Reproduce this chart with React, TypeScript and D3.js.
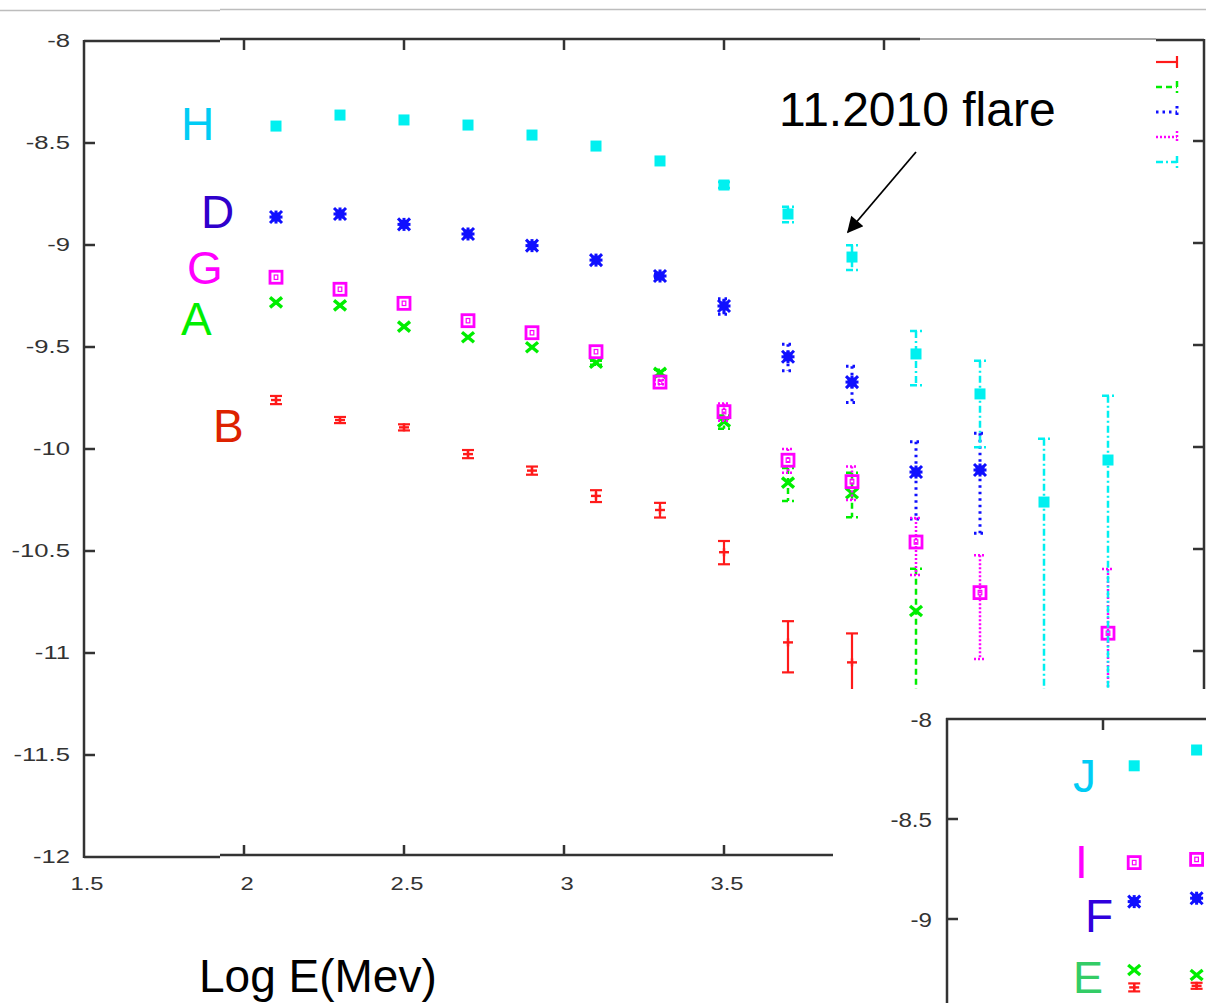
import React from "react";
import * as d3 from "d3";

// ---------- DATA ----------
const energies = [2.1, 2.3, 2.5, 2.7, 2.9, 3.1, 3.3, 3.5, 3.7, 3.9, 4.1, 4.3, 4.5, 4.7];

// H (cyan squares)
const valuesH = [-8.417, -8.363, -8.387, -8.412, -8.461, -8.515, -8.588, -8.706, -8.848, -9.059, -9.534, -9.73, -10.26, -10.054];
const errUpH = [0, 0, 0, 0, 0, 0, 0, 0.015, 0.035, 0.058, 0.113, 0.162, 0.31, 0.315];
const errDnH = [0, 0, 0, 0, 0, 0, 0, 0.015, 0.04, 0.064, 0.153, 0.261, 3, 3];

// D (blue stars)
const valuesD = [-8.863, -8.848, -8.899, -8.946, -9.003, -9.074, -9.152, -9.299, -9.548, -9.672, -10.113, -10.103, null, null];
const errUpD = [0, 0, 0, 0, 0, 0, 0.01, 0.035, 0.062, 0.078, 0.148, 0.18, null, null];
const errDnD = [0, 0, 0, 0, 0, 0, 0.01, 0.04, 0.069, 0.1, 0.23, 0.31, null, null];

// G (magenta boxes)
const valuesG = [-9.158, -9.217, -9.286, -9.371, -9.43, -9.523, -9.672, -9.817, -10.055, -10.16, -10.456, -10.704, null, -10.903];
const errUpG = [0, 0, 0, 0, 0, 0, 0.01, 0.04, 0.055, 0.074, 0.118, 0.183, null, 0.315];
const errDnG = [0, 0, 0, 0, 0, 0, 0.01, 0.045, 0.061, 0.09, 0.162, 0.325, null, 3];

// A (green crosses)
const valuesA = [-9.281, -9.296, -9.4, -9.452, -9.501, -9.577, -9.627, -9.866, -10.165, -10.217, -10.794, null, null, null];
const errUpA = [0, 0, 0, 0, 0, 0.01, 0.015, 0.03, 0.072, 0.1, 0.207, null, null, null];
const errDnA = [0, 0, 0, 0, 0, 0.01, 0.015, 0.035, 0.09, 0.118, 0.41, null, null, null];

// B (red)
const valuesB = [-9.76, -9.858, -9.894, -10.025, -10.106, -10.23, -10.299, -10.506, -10.948, -11.046, null, null, null, null];
const errUpB = [0.02, 0.015, 0.015, 0.02, 0.02, 0.028, 0.035, 0.055, 0.104, 0.142, null, null, null, null];
const errDnB = [0.02, 0.015, 0.015, 0.02, 0.02, 0.03, 0.037, 0.059, 0.147, 0.213, null, null, null, null];

// Inset
const insetEnergies = [2.1, 2.3];
const insetJ = [-8.234, -8.155];
const insetI = [-8.718, -8.702];
const insetF = [-8.913, -8.896];
const insetE = [-9.255, -9.28];
const insetRed = [-9.342, -9.334];
const insetRedErr = [0.02, 0.015];

const mainXTicks = [1.5, 2, 2.5, 3, 3.5, 4, 4.5];
const mainYTicks = [-8, -8.5, -9, -9.5, -10, -10.5, -11, -11.5, -12];
const insetYTicks = [-8, -8.5, -9];
const insetXTicks = [2];

// ---------- STYLE ----------
const C = {
  red: "#ff1a1a",
  green: "#00ee00",
  blue: "#1010ff",
  magenta: "#ff00ff",
  cyan: "#00f0f0",
  axis: "#333333",
};
const FONT = "'Liberation Sans', Arial, sans-serif";

type Series = {
  name: string;
  values: (number | null)[];
  up: (number | null)[];
  dn: (number | null)[];
  color: string;
  marker: string;
  dash: string;
  width: number;
};

const series: Series[] = [
  { name: "B", values: valuesB, up: errUpB, dn: errDnB, color: C.red, marker: "plus", dash: "", width: 2.2 },
  { name: "A", values: valuesA, up: errUpA, dn: errDnA, color: C.green, marker: "cross", dash: "6,4", width: 2.5 },
  { name: "D", values: valuesD, up: errUpD, dn: errDnD, color: C.blue, marker: "star", dash: "2.5,4", width: 3 },
  { name: "G", values: valuesG, up: errUpG, dn: errDnG, color: C.magenta, marker: "box", dash: "2,2", width: 2.5 },
  { name: "H", values: valuesH, up: errUpH, dn: errDnH, color: C.cyan, marker: "square", dash: "7,3,2,3", width: 2.5 },
];

function Marker({ type, x, y, color }: { type: string; x: number; y: number; color: string }) {
  if (type === "square") return <rect x={x - 5.5} y={y - 5.5} width={11} height={11} fill={color} />;
  if (type === "star")
    return (
      <g stroke={color} strokeWidth={3}>
        <rect x={x - 4.5} y={y - 4.5} width={9} height={9} fill={color} stroke="none" />
        <line x1={x - 6} y1={y - 6} x2={x + 6} y2={y + 6} />
        <line x1={x - 6} y1={y + 6} x2={x + 6} y2={y - 6} />
        <line x1={x - 6.5} y1={y} x2={x + 6.5} y2={y} />
        <line x1={x} y1={y - 6.5} x2={x} y2={y + 6.5} />
      </g>
    );
  if (type === "box")
    return (
      <g fill="none" stroke={color}>
        <rect x={x - 6} y={y - 6} width={12} height={12} strokeWidth={2.8} />
        <rect x={x - 1.8} y={y - 2.2} width={3.6} height={4.4} strokeWidth={1.2} />
      </g>
    );
  if (type === "cross")
    return (
      <g stroke={color} strokeWidth={3.4}>
        <line x1={x - 6} y1={y - 5} x2={x + 6} y2={y + 5} />
        <line x1={x - 6} y1={y + 5} x2={x + 6} y2={y - 5} />
      </g>
    );
  // plus
  return (
    <g stroke={color} strokeWidth={2.4}>
      <line x1={x - 5} y1={y} x2={x + 5} y2={y} />
      <line x1={x} y1={y - 4} x2={x} y2={y + 4} />
    </g>
  );
}

export default function App() {
  const W = 1206;
  const H = 1003;
  const x = d3.scaleLinear().domain([1.5, 5]).range([84, 1204]);
  const y = d3.scaleLinear().domain([-8, -12]).range([41, 857]);
  const yShift = d3.scaleLinear().domain([-8, -12]).range([39, 855]);

  const xIn = d3.scaleLinear().domain([1.5, 2.3]).range([947, 1196.6]);
  const yIn = d3.scaleLinear().domain([-8, -9.5]).range([719, 1019]);

  const capW = 6;

  const insetSeries = [
    { vals: insetRed, color: C.red, marker: "plus" },
    { vals: insetE, color: C.green, marker: "cross" },
    { vals: insetF, color: C.blue, marker: "star" },
    { vals: insetI, color: C.magenta, marker: "box" },
    { vals: insetJ, color: C.cyan, marker: "square" },
  ];

  const bigLabel = { fontFamily: FONT, fontSize: 46 };

  return (
    <svg width={W} height={H} style={{ position: "absolute", left: 0, top: 0, background: "#fff" }}>
      <defs>
        <clipPath id="plotClip">
          <rect x={84} y={39} width={1120} height={818} />
        </clipPath>
        <marker id="arrowHead" viewBox="0 0 10 10" refX={9} refY={5} markerWidth={20} markerHeight={16} markerUnits="userSpaceOnUse" orient="auto">
          <path d="M0,0 L10,5 L0,10 z" fill="#000" />
        </marker>
      </defs>
      <rect x={0} y={0} width={W} height={H} fill="#fff" />

      {/* slide lines on top */}
      <line x1={0} y1={10.5} x2={220} y2={10.5} stroke="#bdbdbd" strokeWidth={1.5} />
      <line x1={220} y1={9.5} x2={W} y2={9.5} stroke="#bdbdbd" strokeWidth={1.5} />

      {/* main axes */}
      <g stroke={C.axis} strokeWidth={2.5} fill="none">
        <line x1={84} y1={41} x2={220} y2={41} />
        <line x1={220} y1={39} x2={920} y2={39} />
        <line x1={1156} y1={40} x2={1204} y2={40} />
        <line x1={84} y1={857} x2={220} y2={857} />
        <line x1={220} y1={855} x2={1204} y2={855} />
        <line x1={84} y1={40} x2={84} y2={858} />
        <line x1={1204} y1={39} x2={1204} y2={856} />
      </g>
      <line x1={920} y1={39} x2={1156} y2={39} stroke="#8a8a8a" strokeWidth={1.3} />

      {/* ticks */}
      <g stroke={C.axis} strokeWidth={2.5}>
        {mainYTicks.slice(1, -1).map((t) => (
          <line key={"yl" + t} x1={84} x2={95} y1={y(t)} y2={y(t)} />
        ))}
        {mainYTicks.slice(1, -1).map((t) => (
          <line key={"yr" + t} x1={1193} x2={1204} y1={yShift(t)} y2={yShift(t)} />
        ))}
        {mainXTicks.slice(1).map((t) => (
          <line key={"xb" + t} x1={x(t)} x2={x(t)} y1={845} y2={855} />
        ))}
        {mainXTicks.slice(1).filter((t) => x(t) < 920).map((t) => (
          <line key={"xt" + t} x1={x(t)} x2={x(t)} y1={39} y2={50} />
        ))}
      </g>

      {/* tick labels */}
      <g fill={C.axis} fontFamily={FONT} fontSize={19}>
        {mainYTicks.map((t) => (
          <text key={"yt" + t} transform={`translate(70,${y(t) + 6}) scale(1.35,1)`} textAnchor="end">
            {String(t)}
          </text>
        ))}
        {mainXTicks.map((t) => (
          <text key={"xtl" + t} transform={`translate(${x(t) + 3},${890}) scale(1.25,1)`} textAnchor="middle">
            {String(t)}
          </text>
        ))}
      </g>

      {/* data */}
      <g clipPath="url(#plotClip)">
        {series.map((s) =>
          energies.map((e, i) => {
            const v = s.values[i];
            if (v == null) return null;
            const up = s.up[i] ?? 0;
            const dn = s.dn[i] ?? 0;
            const cx = x(e);
            const yTop = y(v + up);
            const yBot = y(v - dn);
            return (
              <g key={s.name + i}>
                {up + dn > 0 && (
                  <g stroke={s.color} strokeWidth={s.width} strokeDasharray={s.dash || undefined}>
                    <line x1={cx} x2={cx} y1={yTop} y2={yBot} />
                    <line x1={cx - capW} x2={cx + capW} y1={yTop} y2={yTop} />
                    <line x1={cx - capW} x2={cx + capW} y1={yBot} y2={yBot} />
                  </g>
                )}
                <Marker type={s.marker} x={cx} y={y(v)} color={s.color} />
              </g>
            );
          })
        )}
      </g>

      {/* legend samples */}
      {series.map((s, i) => (
        <g key={"leg" + s.name} stroke={s.color} strokeWidth={s.width} strokeDasharray={s.dash || undefined}>
          <line x1={1156} x2={1177} y1={62 + i * 25} y2={62 + i * 25} />
          <line x1={1177} x2={1177} y1={56 + i * 25} y2={68 + i * 25} />
        </g>
      ))}

      {/* series labels */}
      <text x={181} y={140} fill="#00ccf5" {...bigLabel}>H</text>
      <text x={201} y={228} fill="#3000cc" {...bigLabel}>D</text>
      <text x={187} y={284} fill="#ff00ff" {...bigLabel}>G</text>
      <text x={181} y={335} fill="#00ee00" {...bigLabel}>A</text>
      <text x={213} y={442} fill="#dd2200" {...bigLabel}>B</text>

      {/* annotation */}
      <text x={779} y={126} fill="#000" fontFamily={FONT} fontSize={48}>11.2010 flare</text>
      <line x1={916} y1={152} x2={848} y2={232} stroke="#000" strokeWidth={1.8} markerEnd="url(#arrowHead)" />

      {/* axis title */}
      <text x={199} y={992} fill="#000" fontFamily={FONT} fontSize={46}>Log E(Mev)</text>

      {/* inset */}
      <rect x={833} y={689} width={W - 833} height={H - 689} fill="#fff" />
      <g stroke={C.axis} strokeWidth={2.5}>
        <line x1={947} y1={718} x2={947} y2={H} />
        <line x1={946} y1={719} x2={W} y2={719} />
        {insetYTicks.slice(1).map((t) => (
          <line key={"iy" + t} x1={947} x2={958} y1={yIn(t)} y2={yIn(t)} />
        ))}
        {insetXTicks.map((t) => (
          <line key={"ix" + t} x1={xIn(t)} x2={xIn(t)} y1={719} y2={730} />
        ))}
      </g>
      <g fill={C.axis} fontFamily={FONT} fontSize={21}>
        {insetYTicks.map((t) => (
          <text key={"iyt" + t} transform={`translate(932,${yIn(t) + 8}) scale(1.15,1)`} textAnchor="end">
            {String(t)}
          </text>
        ))}
      </g>
      {insetEnergies.map((e, i) => (
        <g key={"inerr" + i} stroke={C.red} strokeWidth={2.2}>
          <line x1={xIn(e)} x2={xIn(e)} y1={yIn(insetRed[i] + insetRedErr[i])} y2={yIn(insetRed[i] - insetRedErr[i])} />
          <line x1={xIn(e) - capW} x2={xIn(e) + capW} y1={yIn(insetRed[i] + insetRedErr[i])} y2={yIn(insetRed[i] + insetRedErr[i])} />
          <line x1={xIn(e) - capW} x2={xIn(e) + capW} y1={yIn(insetRed[i] - insetRedErr[i])} y2={yIn(insetRed[i] - insetRedErr[i])} />
        </g>
      ))}
      {insetSeries.map((s, k) =>
        insetEnergies.map((e, i) => (
          <Marker key={"in" + k + i} type={s.marker} x={xIn(e)} y={yIn(s.vals[i])} color={s.color} />
        ))
      )}
      <text x={1073} y={792} fill="#00ccf5" {...bigLabel}>J</text>
      <text x={1075} y={878} fill="#ff00ff" {...bigLabel}>I</text>
      <text x={1085} y={932} fill="#3000dd" {...bigLabel}>F</text>
      <text x={1073} y={993} fill="#33cc66" fontFamily={FONT} fontSize={45}>E</text>
    </svg>
  );
}
